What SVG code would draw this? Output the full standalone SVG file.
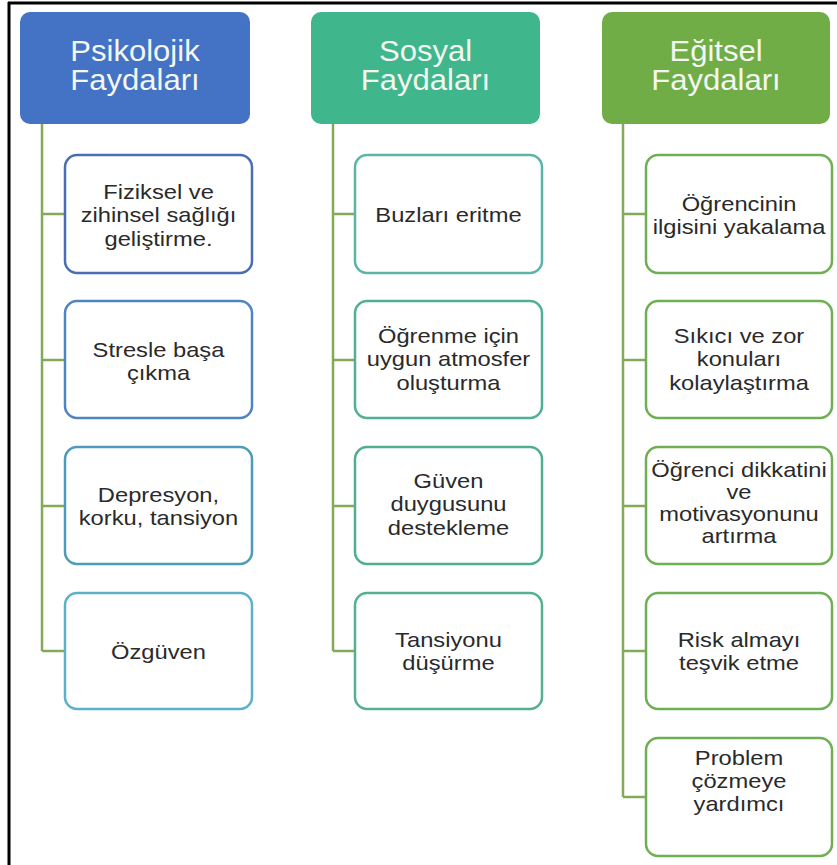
<svg xmlns="http://www.w3.org/2000/svg" width="837" height="865" viewBox="0 0 837 865">
<style>
.hd{stroke:none}
.ht{font-family:"Liberation Sans",Arial,sans-serif;font-size:29px;fill:#F3F7F0;text-anchor:middle}
.bx{fill:#FFFFFF;stroke-width:2.5}
.bt{font-family:"Liberation Sans",Arial,sans-serif;font-size:21px;fill:#2A2A2A;text-anchor:middle}
.cn{stroke:#83AA58;stroke-width:2.5;fill:none}
</style>
<rect x="0" y="0" width="837" height="865" fill="#FFFFFF"/>
<g id="frame">
<line x1="8" y1="3" x2="837" y2="3" stroke="#000" stroke-width="3"/>
<line x1="9" y1="2" x2="9" y2="865" stroke="#000" stroke-width="3"/>
</g>
<g id="connectors">
<path class="cn" d="M42 124V651M42 214H65M42 360H65M42 506H65M42 651H65"/>
<path class="cn" d="M333 124V651M333 214H355M333 360H355M333 506H355M333 651H355"/>
<path class="cn" d="M623 124V797M623 214H646M623 360H646M623 506H646M623 651H646M623 797H646"/>
</g>
<g id="h1"><rect class="hd" x="20" y="12" width="230" height="112" rx="10" fill="#4472C4"/>
<g transform="translate(135 0) scale(1.07 1)"><text class="ht" x="0" y="61">Psikolojik</text><text class="ht" x="0" y="90">Faydaları</text></g></g>
<g id="h2"><rect class="hd" x="311" y="12" width="229" height="112" rx="10" fill="#3FB68B"/>
<g transform="translate(425.5 0) scale(1.07 1)"><text class="ht" x="0" y="61">Sosyal</text><text class="ht" x="0" y="90">Faydaları</text></g></g>
<g id="h3"><rect class="hd" x="602" y="12" width="228" height="112" rx="10" fill="#70AD47"/>
<g transform="translate(716 0) scale(1.07 1)"><text class="ht" x="0" y="61">Eğitsel</text><text class="ht" x="0" y="90">Faydaları</text></g></g>

<g id="l1"><rect class="bx" x="65" y="155" width="187" height="118" rx="12" stroke="#4A6DB3"/>
<g transform="translate(158.5 0) scale(1.13 1)"><text class="bt" x="0" y="199">Fiziksel ve</text><text class="bt" x="0" y="222.5">zihinsel sağlığı</text><text class="bt" x="0" y="246">geliştirme.</text></g></g>
<g id="l2"><rect class="bx" x="65" y="301" width="187" height="117" rx="12" stroke="#4F84C0"/>
<g transform="translate(158.5 0) scale(1.13 1)"><text class="bt" x="0" y="357">Stresle başa</text><text class="bt" x="0" y="380.5">çıkma</text></g></g>
<g id="l3"><rect class="bx" x="65" y="447" width="187" height="117" rx="12" stroke="#4C9BB8"/>
<g transform="translate(158.5 0) scale(1.13 1)"><text class="bt" x="0" y="502">Depresyon,</text><text class="bt" x="0" y="525.5">korku, tansiyon</text></g></g>
<g id="l4"><rect class="bx" x="65" y="593" width="187" height="116" rx="12" stroke="#5BB2C8"/>
<g transform="translate(158.5 0) scale(1.13 1)"><text class="bt" x="0" y="659">Özgüven</text></g></g>

<g id="m1"><rect class="bx" x="355" y="155" width="187" height="118" rx="12" stroke="#5AB5A6"/>
<g transform="translate(448.5 0) scale(1.13 1)"><text class="bt" x="0" y="222">Buzları eritme</text></g></g>
<g id="m2"><rect class="bx" x="355" y="301" width="187" height="117" rx="12" stroke="#50B095"/>
<g transform="translate(448.5 0) scale(1.13 1)"><text class="bt" x="0" y="343">Öğrenme için</text><text class="bt" x="0" y="366.5">uygun atmosfer</text><text class="bt" x="0" y="390">oluşturma</text></g></g>
<g id="m3"><rect class="bx" x="355" y="447" width="187" height="117" rx="12" stroke="#4FAE90"/>
<g transform="translate(448.5 0) scale(1.13 1)"><text class="bt" x="0" y="488">Güven</text><text class="bt" x="0" y="511.5">duygusunu</text><text class="bt" x="0" y="535">destekleme</text></g></g>
<g id="m4"><rect class="bx" x="355" y="593" width="187" height="116" rx="12" stroke="#55B08E"/>
<g transform="translate(448.5 0) scale(1.13 1)"><text class="bt" x="0" y="647">Tansiyonu</text><text class="bt" x="0" y="670.5">düşürme</text></g></g>

<g id="r1"><rect class="bx" x="646" y="155" width="186" height="118" rx="12" stroke="#6DAF52"/>
<g transform="translate(739 0) scale(1.13 1)"><text class="bt" x="0" y="211">Öğrencinin</text><text class="bt" x="0" y="234.5">ilgisini yakalama</text></g></g>
<g id="r2"><rect class="bx" x="646" y="301" width="186" height="117" rx="12" stroke="#6DAF52"/>
<g transform="translate(739 0) scale(1.13 1)"><text class="bt" x="0" y="343">Sıkıcı ve zor</text><text class="bt" x="0" y="366.5">konuları</text><text class="bt" x="0" y="390">kolaylaştırma</text></g></g>
<g id="r3"><rect class="bx" x="646" y="447" width="186" height="117" rx="12" stroke="#6DAF52"/>
<g transform="translate(739 0) scale(1.13 1)"><text class="bt" x="0" y="477">Öğrenci dikkatini</text><text class="bt" x="0" y="499">ve</text><text class="bt" x="0" y="521">motivasyonunu</text><text class="bt" x="0" y="543">artırma</text></g></g>
<g id="r4"><rect class="bx" x="646" y="593" width="186" height="116" rx="12" stroke="#6DAF52"/>
<g transform="translate(739 0) scale(1.13 1)"><text class="bt" x="0" y="647">Risk almayı</text><text class="bt" x="0" y="670.5">teşvik etme</text></g></g>
<g id="r5"><rect class="bx" x="646" y="738" width="186" height="118" rx="12" stroke="#6DAF52"/>
<g transform="translate(739 0) scale(1.13 1)"><text class="bt" x="0" y="765">Problem</text><text class="bt" x="0" y="788">çözmeye</text><text class="bt" x="0" y="811">yardımcı</text></g></g>
</svg>
